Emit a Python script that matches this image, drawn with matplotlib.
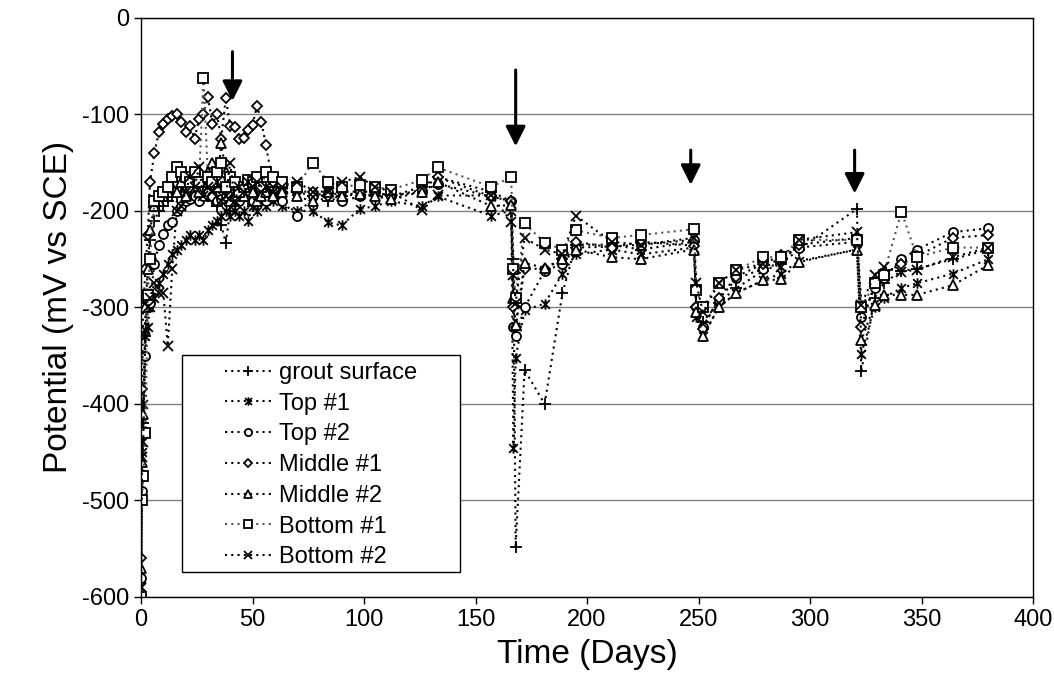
import numpy as np
import matplotlib
matplotlib.use("Agg")
import matplotlib.pyplot as plt
from matplotlib.path import Path
from matplotlib.patches import Rectangle

plt.rcParams['font.family'] = ['Liberation Sans', 'DejaVu Sans']
plt.rcParams['axes.unicode_minus'] = False

# measurement days (shared by all sensors)
days = [0, 0.5, 1, 2, 3, 4, 6, 8, 10, 12, 14, 16, 18, 20, 22, 24, 26, 28, 30, 32,
        34, 36, 38, 40, 42, 44, 46, 48, 50, 52, 54, 56, 59, 63, 70, 77, 84, 90, 98, 105,
        112, 126, 133, 157, 166, 167, 168, 172, 181, 189, 195, 211, 224, 248, 249, 252, 259, 267, 279, 287,
        295, 321, 323, 329, 333, 341, 348, 364, 380]

grout = [-600, -480, -420, -330, -260, -230, -210, -200, -195, -190, -185, -185, -180, -175, -180, -185, -190, -180, -185, -190,
         -195, -215, -233, -200, -195, -190, -185, -190, -195, -190, -185, -180, -175, -180, -180, -185, -190, -185, -180, -185,
         -185, -175, -165, -180, -190, -250, -548, -365, -400, -285, -235, -235, -240, -232, -300, -315, -295, -280, -262, -255,
         -240, -198, -366, -290, -275, -262, -260, -250, -240]
top1 = [-590, -450, -400, -330, -320, -300, -290, -275, -265, -255, -245, -240, -235, -230, -225, -230, -225, -230, -220, -215,
        -210, -205, -200, -205, -200, -205, -200, -210, -195, -200, -190, -195, -190, -195, -200, -200, -212, -215, -198, -195,
        -190, -195, -185, -205, -200, -446, -352, -303, -296, -265, -245, -240, -245, -238, -310, -330, -300, -285, -272, -265,
        -252, -240, -348, -300, -290, -280, -275, -265, -250]
top2 = [-580, -490, -430, -350, -300, -295, -255, -235, -224, -215, -212, -200, -195, -190, -188, -185, -190, -185, -180, -185,
        -190, -188, -185, -182, -185, -190, -180, -185, -190, -185, -180, -190, -185, -190, -205, -185, -180, -190, -185, -180,
        -185, -180, -172, -185, -190, -320, -330, -300, -262, -255, -238, -237, -235, -230, -300, -320, -292, -270, -260, -248,
        -238, -232, -310, -280, -270, -250, -240, -222, -218]
mid1 = [-560, -385, -300, -260, -225, -170, -140, -118, -110, -105, -102, -100, -108, -118, -112, -125, -105, -100, -82, -110,
        -100, -125, -83, -112, -113, -125, -124, -116, -111, -91, -108, -132, -170, -175, -180, -180, -185, -180, -180, -180,
        -185, -178, -165, -185, -190, -300, -320, -260, -260, -250, -232, -238, -232, -236, -300, -322, -290, -268, -255, -246,
        -235, -228, -320, -275, -265, -255, -247, -228, -225]
mid2 = [-570, -460, -410, -300, -260, -220, -195, -190, -185, -180, -175, -180, -170, -185, -175, -165, -180, -170, -160, -150,
        -175, -130, -160, -190, -185, -180, -185, -175, -180, -190, -185, -180, -185, -180, -185, -190, -180, -185, -182, -185,
        -188, -180, -170, -195, -194, -290, -318, -254, -259, -250, -240, -248, -250, -240, -305, -330, -300, -285, -272, -271,
        -253, -240, -334, -297, -287, -287, -287, -277, -256]
bot1 = [-600, -500, -475, -430, -287, -250, -190, -185, -180, -175, -165, -155, -160, -165, -170, -160, -170, -62, -165, -170,
        -160, -150, -175, -165, -170, -180, -175, -168, -170, -165, -175, -160, -165, -170, -175, -150, -170, -175, -173, -175,
        -178, -168, -155, -175, -165, -260, -290, -213, -233, -240, -220, -228, -225, -219, -282, -300, -275, -261, -248, -248,
        -230, -230, -300, -275, -266, -201, -248, -238, -238]
bot2 = [-590, -455, -440, -323, -300, -290, -275, -285, -285, -340, -260, -200, -195, -180, -165, -175, -155, -185, -175, -180,
        -170, -190, -185, -150, -190, -175, -180, -170, -175, -170, -180, -175, -180, -175, -170, -180, -180, -170, -165, -175,
        -180, -199, -184, -184, -211, -266, -295, -228, -240, -245, -205, -232, -235, -228, -275, -305, -275, -261, -255, -258,
        -230, -222, -297, -266, -258, -263, -261, -248, -238]

labels = ['grout surface', 'Top #1', 'Top #2', 'Middle #1', 'Middle #2', 'Bottom #1', 'Bottom #2']

# arrows (day, top, tip)
arrow_days = [41, 168, 246.5, 320]
arrow_top = [-35, -54, -137, -137]
arrow_tip = [-86, -133, -173, -182]

asterisk = Path([(-1, -1), (1, 1), (-1, 1), (1, -1), (0, -1.2), (0, 1.2)],
                [Path.MOVETO, Path.LINETO, Path.MOVETO, Path.LINETO, Path.MOVETO, Path.LINETO])

series = [grout, top1, top2, mid1, mid2, bot1, bot2]
markers = ['+', asterisk, 'o', 'D', '^', 's', 'x']
sizes = [8.5, 7.5, 6.5, 5.5, 6.5, 6.5, 7]
colors = ['black', 'black', 'black', 'black', 'black', '#555555', 'black']

fig = plt.figure(figsize=(10.54, 6.9), dpi=100)
ax = fig.add_axes([0.1338, 0.135, 0.8463, 0.839])

for vals, m, s, c, lab in zip(series, markers, sizes, colors, labels):
    ax.plot(days, vals, linestyle=(0, (1, 2)), lw=1.5, color=c,
            marker=m, markersize=s, markerfacecolor='white', markeredgecolor='black',
            markeredgewidth=1.3, label=lab)

for d, y0, y1 in zip(arrow_days, arrow_top, arrow_tip):
    ax.annotate('', xy=(d, y1), xytext=(d, y0),
                arrowprops=dict(arrowstyle='-|>', lw=2.2, color='black', mutation_scale=30,
                                shrinkA=0, shrinkB=0))

ax.set_xlim(0, 400)
ax.set_ylim(-600, 0)
ax.set_xticks(range(0, 401, 50))
ax.set_yticks(range(-600, 1, 100))
ax.yaxis.grid(True, color='#808080', lw=1)
ax.set_axisbelow(True)
ax.tick_params(labelsize=17, direction='out', length=5, width=1)
for sp in ax.spines.values():
    sp.set_linewidth(1)
ax.set_xlabel('Time (Days)', fontsize=24, labelpad=6)
ax.set_ylabel('Potential (mV vs SCE)', fontsize=24, labelpad=6)

# legend box drawn separately so the padding matches
ax.add_patch(Rectangle((0.046, 0.0432), 0.3116, 0.3748, transform=ax.transAxes,
                       facecolor='white', edgecolor='black', lw=1, zorder=5))
leg = ax.legend(loc='center', bbox_to_anchor=(0.2018, 0.2275), frameon=False,
                fontsize=17, handlelength=2.0, handletextpad=0.3, labelspacing=0.37,
                borderpad=0, borderaxespad=0, markerscale=0.8)
leg.set_zorder(6)

fig.savefig('out.png', dpi=100)
